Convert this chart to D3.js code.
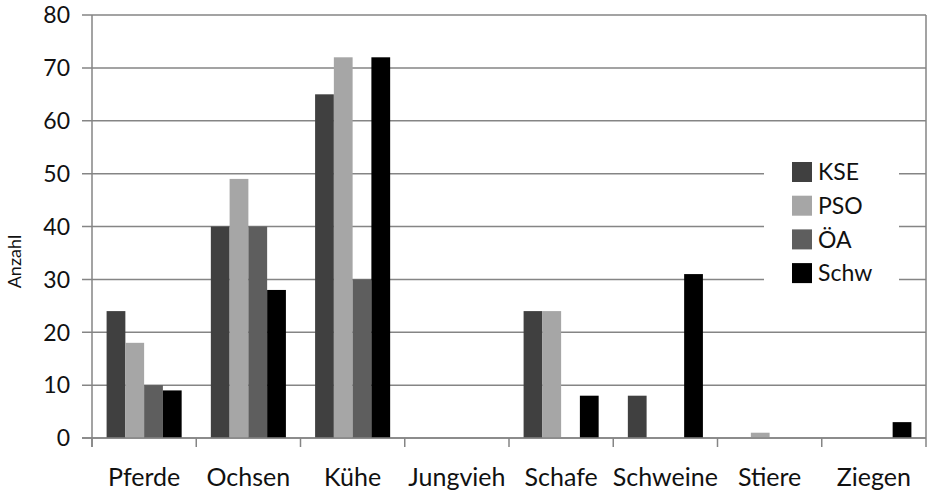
<!DOCTYPE html>
<html>
<head>
<meta charset="utf-8">
<script src="https://cdn.jsdelivr.net/npm/d3@7"></script>
<style>
  html, body { margin: 0; padding: 0; background: #fff; }
  svg { display: block; font-family: Lato, "Open Sans", sans-serif; }
</style>
</head>
<body>
<svg id="chart" width="928" height="496"></svg>
<script>
// Livestock counts per category, one array per source
const categories = ["Pferde", "Ochsen", "Kühe", "Jungvieh", "Schafe", "Schweine", "Stiere", "Ziegen"];
const seriesNames = ["KSE", "PSO", "ÖA", "Schw"];
const valuesKSE  = [24, 40, 65, 0, 24, 8, 0, 0];
const valuesPSO  = [18, 49, 72, 0, 24, 0, 1, 0];
const valuesOA   = [10, 40, 30, 0, 0, 0, 0, 0];
const valuesSchw = [9, 28, 72, 0, 8, 31, 0, 3];
const yTicks = [0, 10, 20, 30, 40, 50, 60, 70, 80];
const seriesColors = ["#404040", "#a6a6a6", "#5e5e5e", "#000000"];

const seriesValues = [valuesKSE, valuesPSO, valuesOA, valuesSchw];
const rows = categories.map((c, i) => ({
  category: c,
  values: seriesNames.map((s, j) => ({ key: s, value: seriesValues[j][i], color: seriesColors[j] }))
}));

const svg = d3.select("#chart");
const W = 928, H = 496;
const margin = { left: 92, right: 2, top: 15, bottom: 58 };
const x0 = margin.left, x1 = W - margin.right;
const yTop = margin.top, yBot = H - margin.bottom;

const y = d3.scaleLinear().domain([0, 80]).range([yBot, yTop]);
const xCat = d3.scaleBand().domain(categories).range([x0, x1]);

// each group of four bars fills ~72% of its category slot, centred
const groupWidth = xCat.bandwidth() * 0.72;
const xSeries = d3.scaleBand().domain(seriesNames)
  .range([(xCat.bandwidth() - groupWidth) / 2, (xCat.bandwidth() + groupWidth) / 2]);

const lineColor = "#858585";

// horizontal gridlines with short left tick marks
svg.append("g")
  .selectAll("line")
  .data(yTicks)
  .join("line")
  .attr("x1", x0 - 10)
  .attr("x2", x1)
  .attr("y1", d => y(d))
  .attr("y2", d => y(d))
  .attr("stroke", lineColor)
  .attr("stroke-width", 1.5);

// y tick labels
svg.append("g")
  .selectAll("text")
  .data(yTicks)
  .join("text")
  .attr("x", 70)
  .attr("y", d => y(d))
  .attr("dy", "0.36em")
  .attr("text-anchor", "end")
  .attr("font-size", 23)
  .attr("fill", "#111")
  .text(d => d);

// bars
const groups = svg.append("g")
  .selectAll("g")
  .data(rows)
  .join("g")
  .attr("transform", d => `translate(${xCat(d.category)},0)`);

groups.selectAll("rect")
  .data(d => d.values)
  .join("rect")
  .attr("x", d => xSeries(d.key))
  .attr("width", xSeries.bandwidth())
  .attr("y", d => y(d.value))
  .attr("height", d => y(0) - y(d.value))
  .attr("fill", d => d.color);

// axis and frame lines
svg.append("line")
  .attr("x1", x0).attr("x2", x0)
  .attr("y1", yTop).attr("y2", yBot + 9)
  .attr("stroke", lineColor).attr("stroke-width", 1.5);
svg.append("line")
  .attr("x1", x1).attr("x2", x1)
  .attr("y1", yTop).attr("y2", yBot + 9)
  .attr("stroke", lineColor).attr("stroke-width", 1.5);
svg.append("line")
  .attr("x1", x0 - 10).attr("x2", x1)
  .attr("y1", yBot).attr("y2", yBot)
  .attr("stroke", lineColor).attr("stroke-width", 1.5);

// category boundary tick marks
svg.append("g")
  .selectAll("line")
  .data(categories)
  .join("line")
  .attr("x1", d => xCat(d))
  .attr("x2", d => xCat(d))
  .attr("y1", yBot)
  .attr("y2", yBot + 9)
  .attr("stroke", lineColor)
  .attr("stroke-width", 1.5);

// category labels
svg.append("g")
  .selectAll("text")
  .data(categories)
  .join("text")
  .attr("x", d => xCat(d) + xCat.bandwidth() / 2)
  .attr("y", 486)
  .attr("text-anchor", "middle")
  .attr("font-size", 25)
  .attr("fill", "#111")
  .text(d => d);

// y axis title
svg.append("text")
  .attr("transform", `translate(21,${(yTop + yBot) / 2 + 35}) rotate(-90)`)
  .attr("text-anchor", "middle")
  .attr("font-size", 18)
  .attr("fill", "#111")
  .text("Anzahl");

// legend
const legend = svg.append("g").attr("transform", "translate(764,150)");
legend.append("rect")
  .attr("width", 135).attr("height", 146)
  .attr("fill", "#fff");
const items = legend.selectAll("g")
  .data(seriesNames)
  .join("g")
  .attr("transform", (d, i) => `translate(28,${12 + i * 33.7})`);
items.append("rect")
  .attr("width", 20).attr("height", 20)
  .attr("fill", (d, i) => seriesColors[i]);
items.append("text")
  .attr("x", 26)
  .attr("y", 10)
  .attr("dy", "0.36em")
  .attr("font-size", 23)
  .attr("fill", "#111")
  .text(d => d);
</script>
</body>
</html>
